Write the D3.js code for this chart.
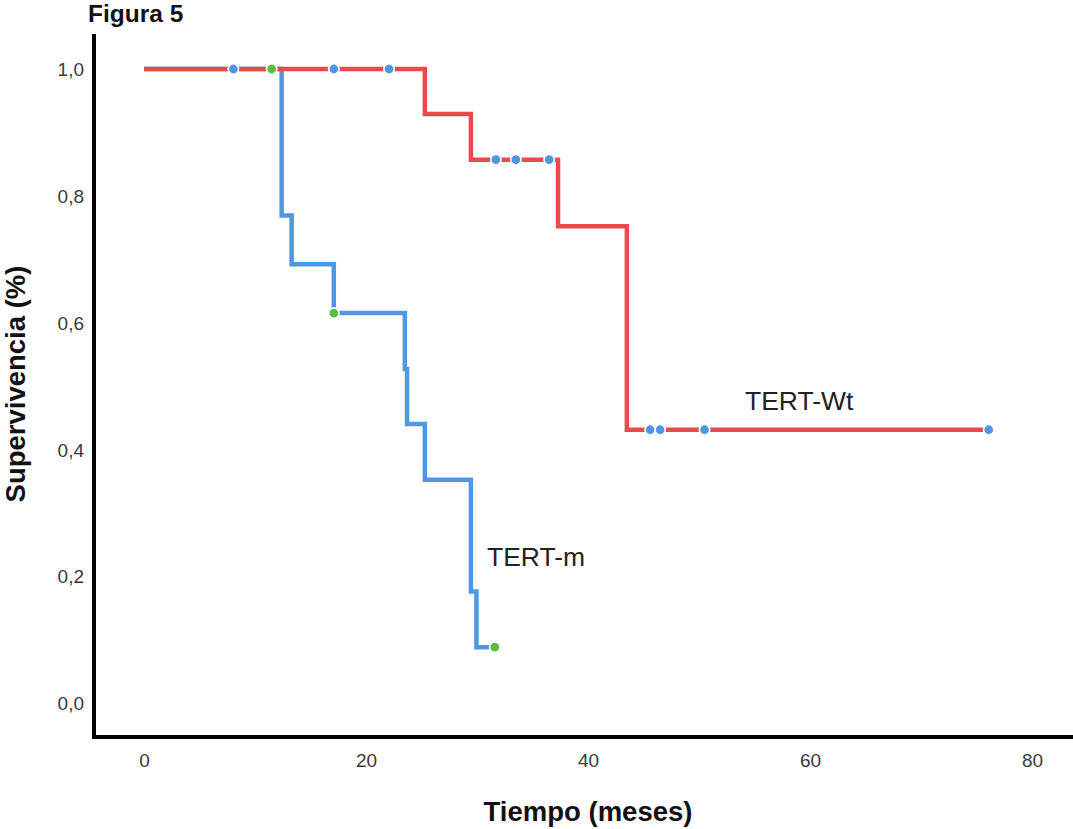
<!DOCTYPE html>
<html>
<head>
<meta charset="utf-8">
<script src="https://cdn.jsdelivr.net/npm/d3@7"></script>
<style>
  html, body { margin: 0; padding: 0; background: #fff; }
  svg { display: block; }
  text { font-family: "Liberation Sans", Arial, Helvetica, sans-serif; }
</style>
</head>
<body>
<svg id="chart" width="1073" height="829"></svg>
<script>
// Kaplan-Meier curves: event times (meses) and survival after each event
const groups = ["TERT-m", "TERT-Wt"];

const mutTimes = [12.4, 13.3, 17.1, 23.5, 23.7, 25.3, 29.45, 29.95];
const mutSurv  = [0.769, 0.692, 0.615, 0.527, 0.440, 0.352, 0.176, 0.088];
const mutEnd   = 31.6;
const mutCensTimes = [11.5, 17.1, 31.6];
const mutCensSurv  = [1.0, 0.615, 0.088];

const wtTimes = [25.3, 29.45, 37.3, 43.5];
const wtSurv  = [0.929, 0.857, 0.752, 0.431];
const wtEnd   = 76.1;
const wtCensTimes = [8.05, 17.1, 22.07, 31.7, 33.5, 36.5, 45.6, 46.5, 50.5, 76.1];
const wtCensSurv  = [1.0, 1.0, 1.0, 0.857, 0.857, 0.857, 0.431, 0.431, 0.431, 0.431];

const xTicks = [0, 20, 40, 60, 80];
const yTicks = [0, 0.2, 0.4, 0.6, 0.8, 1.0];

const svg = d3.select("#chart");
const x = d3.scaleLinear().domain([0, 80]).range([144, 1032]);
const y = d3.scaleLinear().domain([0, 1]).range([703, 69]);

const RED = "#e84b4e", BLUE = "#5195e5", GREEN = "#5cbd3c";

function stepPoints(times, surv, end) {
  const pts = [[0, 1]];
  times.forEach((t, i) => pts.push([t, surv[i]]));
  pts.push([end, surv[surv.length - 1]]);
  return pts;
}

const line = d3.line()
  .x(d => x(d[0]))
  .y(d => y(d[1]))
  .curve(d3.curveStepAfter);

// axis lines
svg.append("line").attr("x1", 94).attr("x2", 94).attr("y1", 34).attr("y2", 739)
  .attr("stroke", "#000").attr("stroke-width", 4);
svg.append("line").attr("x1", 92).attr("x2", 1073).attr("y1", 737).attr("y2", 737)
  .attr("stroke", "#000").attr("stroke-width", 4);

// tick labels via d3 axes
const fmtY = v => d3.format(".1f")(v).replace(".", ",");
const yAxis = svg.append("g").attr("transform", "translate(84,0)")
  .call(d3.axisLeft(y).tickValues(yTicks).tickFormat(fmtY).tickSize(0).tickPadding(0));
yAxis.select(".domain").remove();
yAxis.selectAll("text").attr("font-size", 19).attr("fill", "#3a3a3a")
  .style("font-family", "'Liberation Sans', Arial, sans-serif").attr("dy", "0.35em");

const xAxis = svg.append("g").attr("transform", "translate(0,753)")
  .call(d3.axisBottom(x).tickValues(xTicks).tickFormat(d3.format("d")).tickSize(0).tickPadding(0));
xAxis.select(".domain").remove();
xAxis.selectAll("text").attr("font-size", 19).attr("fill", "#3a3a3a")
  .style("font-family", "'Liberation Sans', Arial, sans-serif").attr("dy", "0.71em");

// survival curves (TERT-Wt drawn above TERT-m)
svg.append("path").datum(stepPoints(mutTimes, mutSurv, mutEnd))
  .attr("d", line).attr("fill", "none").attr("stroke", BLUE)
  .attr("stroke-width", 4.5).attr("stroke-linejoin", "miter");
svg.append("path").datum(stepPoints(wtTimes, wtSurv, wtEnd))
  .attr("d", line).attr("fill", "none").attr("stroke", RED)
  .attr("stroke-width", 4.5).attr("stroke-linejoin", "miter");

// censored observations
function censors(times, surv, color) {
  svg.append("g").selectAll("circle")
    .data(times.map((t, i) => [t, surv[i]]))
    .join("circle")
    .attr("cx", d => x(d[0])).attr("cy", d => y(d[1]))
    .attr("r", 5.2).attr("fill", color)
    .attr("stroke", "#fff").attr("stroke-width", 1.6);
}
censors(wtCensTimes, wtCensSurv, BLUE);
censors(mutCensTimes, mutCensSurv, GREEN);

// curve labels
svg.append("text").attr("x", 745).attr("y", 410).attr("font-size", 26.5)
  .attr("fill", "#222").text(groups[1]);
svg.append("text").attr("x", 487).attr("y", 566).attr("font-size", 26.5)
  .attr("fill", "#222").text(groups[0]);

// titles
svg.append("text").attr("x", 88).attr("y", 22).attr("font-size", 24.5)
  .attr("font-weight", "bold").attr("fill", "#111").text("Figura 5");
svg.append("text").attr("x", 588).attr("y", 821).attr("text-anchor", "middle")
  .attr("font-size", 27.5).attr("font-weight", "bold").attr("fill", "#111")
  .text("Tiempo (meses)");
svg.append("text").attr("transform", "translate(25,384) rotate(-90)")
  .attr("text-anchor", "middle").attr("font-size", 27.5).attr("font-weight", "bold")
  .attr("fill", "#111").text("Supervivencia (%)");
</script>
</body>
</html>
